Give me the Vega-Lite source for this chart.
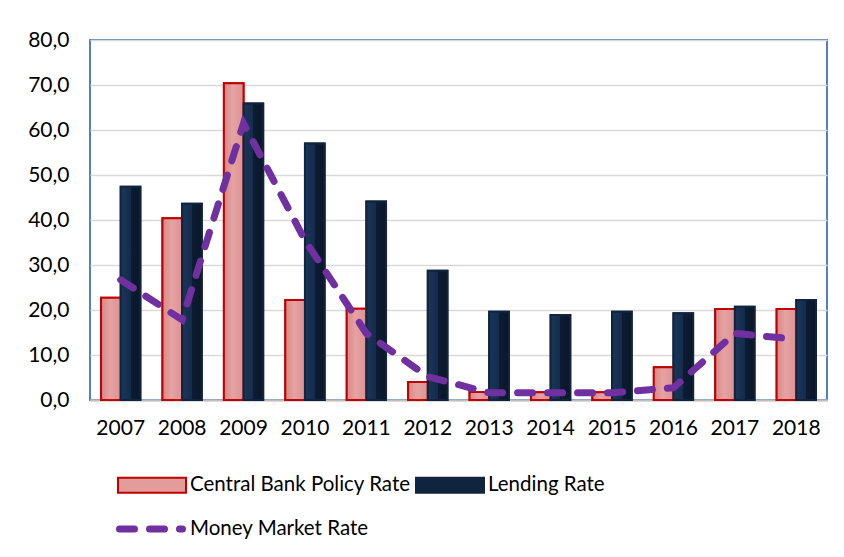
{
  "$schema": "https://vega.github.io/schema/vega-lite/v6.json",
  "width": 737,
  "height": 360,
  "autosize": {"type": "none"},
  "padding": {"left": 90, "top": 40, "right": 17, "bottom": 157},
  "background": "white",
  "config": {
    "locale": {"number": {"decimal": ",", "thousands": ".", "grouping": [3], "currency": ["", " €"]}},
    "font": "Lato",
    "view": {"stroke": "#4F81BD", "strokeWidth": 2},
    "axis": {"labelFont": "Lato", "labelFontSize": 21, "labelColor": "#000000", "title": null}
  },
  "datasets": {
    "bars": [
      {"year": "2007", "series": "Central Bank Policy Rate", "value": 22.7},
      {"year": "2007", "series": "Lending Rate", "value": 47.4},
      {"year": "2008", "series": "Central Bank Policy Rate", "value": 40.4},
      {"year": "2008", "series": "Lending Rate", "value": 43.6},
      {"year": "2009", "series": "Central Bank Policy Rate", "value": 70.4},
      {"year": "2009", "series": "Lending Rate", "value": 65.9},
      {"year": "2010", "series": "Central Bank Policy Rate", "value": 22.2},
      {"year": "2010", "series": "Lending Rate", "value": 57.0},
      {"year": "2011", "series": "Central Bank Policy Rate", "value": 20.3},
      {"year": "2011", "series": "Lending Rate", "value": 44.1},
      {"year": "2012", "series": "Central Bank Policy Rate", "value": 4.0},
      {"year": "2012", "series": "Lending Rate", "value": 28.7},
      {"year": "2013", "series": "Central Bank Policy Rate", "value": 1.8},
      {"year": "2013", "series": "Lending Rate", "value": 19.6},
      {"year": "2014", "series": "Central Bank Policy Rate", "value": 1.7},
      {"year": "2014", "series": "Lending Rate", "value": 18.9},
      {"year": "2015", "series": "Central Bank Policy Rate", "value": 1.7},
      {"year": "2015", "series": "Lending Rate", "value": 19.6},
      {"year": "2016", "series": "Central Bank Policy Rate", "value": 7.3},
      {"year": "2016", "series": "Lending Rate", "value": 19.3},
      {"year": "2017", "series": "Central Bank Policy Rate", "value": 20.2},
      {"year": "2017", "series": "Lending Rate", "value": 20.7},
      {"year": "2018", "series": "Central Bank Policy Rate", "value": 20.2},
      {"year": "2018", "series": "Lending Rate", "value": 22.2}
    ],
    "mm": [
      {"year": "2007", "series": "Money Market Rate", "value": 26.7},
      {"year": "2008", "series": "Money Market Rate", "value": 17.8},
      {"year": "2009", "series": "Money Market Rate", "value": 61.5},
      {"year": "2010", "series": "Money Market Rate", "value": 35.5},
      {"year": "2011", "series": "Money Market Rate", "value": 14.8},
      {"year": "2012", "series": "Money Market Rate", "value": 5.2},
      {"year": "2013", "series": "Money Market Rate", "value": 1.6},
      {"year": "2014", "series": "Money Market Rate", "value": 1.6},
      {"year": "2015", "series": "Money Market Rate", "value": 1.6},
      {"year": "2016", "series": "Money Market Rate", "value": 2.7},
      {"year": "2017", "series": "Money Market Rate", "value": 14.8},
      {"year": "2018", "series": "Money Market Rate", "value": 13.5}
    ]
  },
  "encoding": {
    "x": {
      "field": "year", "type": "nominal", "sort": null,
      "scale": {"paddingInner": 0.36, "paddingOuter": 0.18},
      "axis": {"labelAngle": 0, "ticks": false, "labelPadding": 17, "domainColor": "#BFBFBF", "domainWidth": 2, "grid": false}
    },
    "y": {
      "field": "value", "type": "quantitative",
      "scale": {"domain": [0, 80], "nice": false},
      "axis": {"values": [0, 10, 20, 30, 40, 50, 60, 70, 80], "format": ".1f", "ticks": false, "domain": false, "labelPadding": 21, "gridColor": "#D9D9D9", "gridWidth": 1.5}
    }
  },
  "layer": [
    {
      "data": {"name": "bars"},
      "mark": {"type": "bar", "strokeWidth": 2},
      "encoding": {
        "xOffset": {"field": "series", "type": "nominal", "scale": {"paddingInner": 0}},
        "fill": {
          "field": "series", "type": "nominal",
          "scale": {"domain": ["Central Bank Policy Rate", "Lending Rate"], "range": ["#E39C9C", "#10243F"]},
          "legend": {"orient": "none", "legendX": 27, "legendY": 410, "direction": "horizontal", "columns": 2, "title": null, "symbolType": "M-1,-0.22H1V0.22H-1Z", "symbolSize": 4624, "symbolStrokeWidth": 2, "symbolOpacity": 1, "labelFont": "Lato", "labelFontSize": 20.5, "labelColor": "#000000", "labelOffset": 3, "columnPadding": 1, "padding": 0, "labelLimit": 400}
        },
        "stroke": {
          "field": "series", "type": "nominal",
          "scale": {"domain": ["Central Bank Policy Rate", "Lending Rate"], "range": ["#C00000", "#10243F"]},
          "legend": {"orient": "none", "legendX": 27, "legendY": 410, "direction": "horizontal", "columns": 2, "title": null, "symbolType": "M-1,-0.22H1V0.22H-1Z", "symbolSize": 4624, "symbolStrokeWidth": 2, "symbolOpacity": 1, "labelFont": "Lato", "labelFontSize": 20.5, "labelColor": "#000000", "labelOffset": 3, "columnPadding": 1, "padding": 0, "labelLimit": 400}
        }
      }
    },
    {
      "data": {"name": "bars"},
      "mark": {"type": "bar", "strokeWidth": 2},
      "encoding": {
        "xOffset": {"field": "series", "type": "nominal"},
        "fill": {
          "condition": {"test": "datum.series === 'Lending Rate'", "value": {"gradient": "linear", "x1": 0, "x2": 1, "y1": 0, "y2": 0, "stops": [{"offset": 0, "color": "#1B3659"}, {"offset": 0.5, "color": "#142C4C"}, {"offset": 0.5, "color": "#0D1C32"}, {"offset": 1, "color": "#0A1729"}]}},
          "value": {"gradient": "linear", "x1": 0, "x2": 1, "y1": 0, "y2": 0, "stops": [{"offset": 0, "color": "#D68888"}, {"offset": 0.45, "color": "#E6A2A2"}, {"offset": 1, "color": "#DC9292"}]}
        },
        "stroke": {
          "condition": {"test": "datum.series === 'Lending Rate'", "value": "#10243F"},
          "value": "#C00000"
        }
      }
    },
    {
      "data": {"name": "mm"},
      "mark": {"type": "line", "color": "#7030A0", "strokeWidth": 7, "strokeCap": "round"},
      "encoding": {
        "strokeDash": {
          "field": "series", "type": "nominal",
          "scale": {"domain": ["Money Market Rate"], "range": [[15, 15]]},
          "legend": {"orient": "none", "legendX": 26, "legendY": 454, "title": null, "symbolType": "stroke", "symbolSize": 3969, "symbolStrokeWidth": 7, "symbolStrokeColor": "#7030A0", "symbolDash": [15, 15], "labelFont": "Lato", "labelFontSize": 20.5, "labelColor": "#000000", "labelOffset": 4, "padding": 0, "labelLimit": 400,
            "encode": {"symbols": {"update": {"strokeCap": {"value": "round"}}}}}
        }
      }
    }
  ]
}
